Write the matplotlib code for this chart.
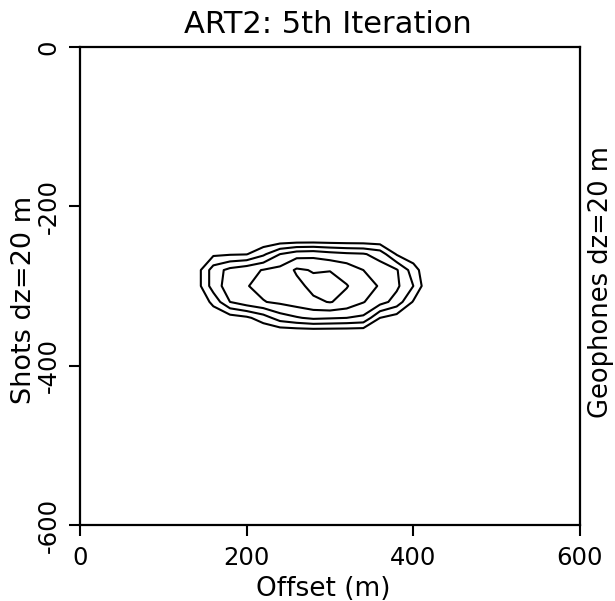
import numpy as np
import matplotlib
matplotlib.use("Agg")
import matplotlib.pyplot as plt

# ---- data -------------------------------------------------------------
# grid of the model (dz = 20 m)
grid_x = np.arange(0, 601, 20)
grid_y = np.arange(0, -601, -20)

# non-zero patch of the 5th-iteration image
patch_x = [120, 140, 160, 180, 200, 220, 240, 260, 280, 300, 320, 340, 360, 380, 400, 420]
patch_y = [-240, -260, -280, -300, -320, -340, -360]
row_m240 = [0, 0, 0, 0, 0, 0, 0, 0, 0, 0, 0, 0, 0, 0, 0, 0]
row_m260 = [0, 0.3, 0.8, 0.9, 0.95, 1.8, 3.0, 3.6, 3.7, 3.4, 3.2, 3.1, 2.6, 0.9, 0.3, 0]
row_m280 = [0, 0.5, 2.5, 3.3, 3.7, 4.05, 4.3, 5.15, 4.93, 4.97, 4.6, 4.0, 3.5, 3.1, 1.5, 0]
row_m300 = [0, 0.5, 2.5, 3.5, 3.95, 4.3, 4.6, 4.7, 5.3, 5.35, 5.05, 4.5, 3.9, 3.2, 2.0, 0]
row_m320 = [0, 0, 1.3, 3.0, 3.6, 3.95, 4.2, 4.5, 4.8, 5.05, 4.7, 4.05, 3.4, 2.6, 0.9, 0]
row_m340 = [0, 0, 0.2, 0.5, 0.8, 1.5, 2.5, 2.9, 3.2, 3.1, 3.0, 2.8, 1.0, 0.5, 0, 0]
row_m360 = [0, 0, 0, 0, 0, 0, 0, 0, 0, 0, 0, 0, 0, 0, 0, 0]
contour_levels = [1, 2, 3, 4, 5]

x_ticks = [0, 200, 400, 600]
y_ticks = [0, -200, -400, -600]
x_ticklabels = ["0", "200", "400", "600"]
y_ticklabels = ["0", "-200", "-400", "-600"]

# ---- build field --------------------------------------------------------
Z = np.zeros((len(grid_y), len(grid_x)))
patch = [row_m240, row_m260, row_m280, row_m300, row_m320, row_m340, row_m360]
for yv, row in zip(patch_y, patch):
    i = int(np.where(grid_y == yv)[0][0])
    for xv, v in zip(patch_x, row):
        j = int(np.where(grid_x == xv)[0][0])
        Z[i, j] = v

# ---- figure ---------------------------------------------------------------
plt.rcParams['font.family'] = ['DejaVu Sans']
fig = plt.figure(figsize=(6.15, 6.01), dpi=100)
ax = fig.add_axes([80/615, 1-525/601, 500/615, 478/601])

ax.contour(grid_x, grid_y, Z, levels=contour_levels, colors='black', linewidths=1.5)

ax.set_xlim(0, 600)
ax.set_ylim(-600, 0)
ax.set_xticks(x_ticks)
ax.set_xticklabels(x_ticklabels, fontsize=17.5)
ax.set_yticks(y_ticks)
ax.set_yticklabels(y_ticklabels, fontsize=17.5, rotation=90, va='center')
ax.tick_params(axis='x', direction='out', length=8, width=1.5, pad=7)
ax.tick_params(axis='y', direction='out', length=8, width=1.5, pad=6)
for s in ax.spines.values():
    s.set_linewidth(1.6)

fig.text(328/615, 1-33/601, "ART2: 5th Iteration", fontsize=22, ha='center', va='baseline')
fig.text(323/615, 1-596/601, "Offset (m)", fontsize=19, ha='center', va='baseline')
fig.text(24/615, 1-300/601, "Shots dz=20 m", fontsize=19.5, rotation=90, ha='center', va='center')
fig.text(601/615, 1-282/601, "Geophones dz=20 m", fontsize=18.5, rotation=90, ha='center', va='center')

fig.savefig("out.png", dpi=100)
